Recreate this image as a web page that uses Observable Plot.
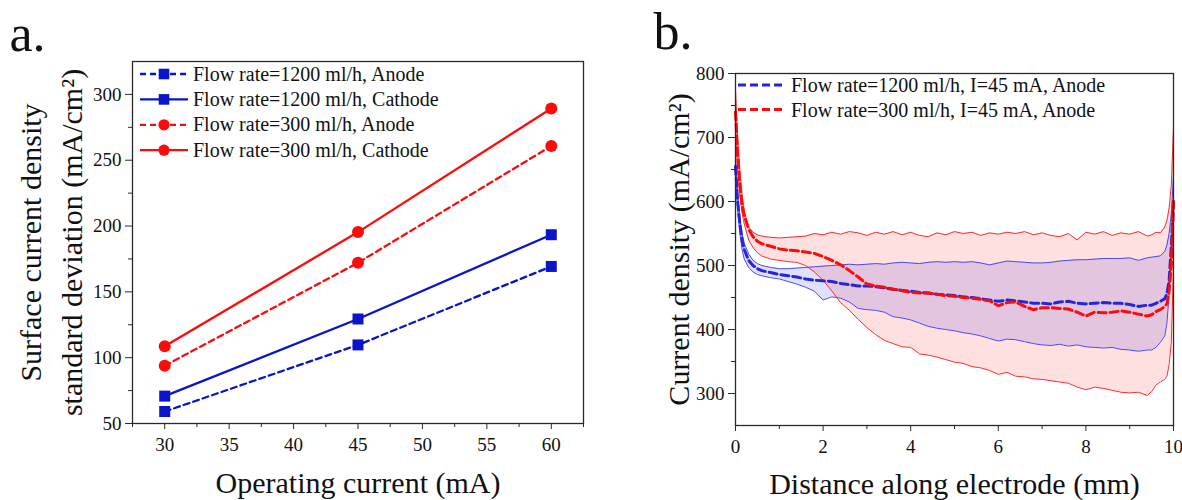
<!DOCTYPE html>
<html>
<head>
<meta charset="utf-8">
<script src="https://cdn.jsdelivr.net/npm/d3@7"></script>
<script src="https://cdn.jsdelivr.net/npm/@observablehq/plot@0.6"></script>
<style>
  html, body { margin: 0; padding: 0; background: #fff; }
  #fig { position: relative; width: 1182px; height: 500px; overflow: hidden; background: #fff; }
  #fig svg { position: absolute; top: 0; }
</style>
</head>
<body>
<div id="fig"></div>
<script>
// ---------------- Panel a data ----------------
const currents = [30, 45, 60];
const anode1200 = [59.1, 109.7, 169.3];
const cathode1200 = [70.8, 129.4, 193.4];
const anode300 = [93.9, 172.1, 260.8];
const cathode300 = [108.6, 195.4, 289.3];
const legendA = ["Flow rate=1200 ml/h, Anode", "Flow rate=1200 ml/h, Cathode", "Flow rate=300 ml/h, Anode", "Flow rate=300 ml/h, Cathode"];
const xTicksA = [30, 35, 40, 45, 50, 55, 60];
const xMinorA = [27.5, 32.5, 37.5, 42.5, 47.5, 52.5, 57.5, 62.5];
const yTicksA = [50, 100, 150, 200, 250, 300];
const yMinorA = [75, 125, 175, 225, 275];

// ---------------- Panel b data ----------------
const distance = [0, 0.05, 0.1, 0.15, 0.2, 0.3, 0.4, 0.5, 0.6, 0.8, 1.0, 1.2, 1.4, 1.6, 1.8, 2.0, 2.2, 2.4, 2.6, 2.8, 3.0, 3.2, 3.4, 3.6, 3.8, 4.0, 4.2, 4.4, 4.6, 4.8, 5.0, 5.2, 5.4, 5.6, 5.8, 6.0, 6.2, 6.4, 6.6, 6.8, 7.0, 7.2, 7.4, 7.6, 7.8, 8.0, 8.2, 8.4, 8.6, 8.8, 9.0, 9.2, 9.4, 9.5, 9.6, 9.7, 9.8, 9.85, 9.9, 9.95, 10];
const red300Upper = [775, 700, 650, 612, 585, 560, 552, 548, 546, 544, 543, 544, 545, 546, 550, 548, 552, 549, 553, 551, 547, 552, 549, 553, 548, 552, 547, 545, 551, 548, 553, 550, 552, 547, 551, 549, 552, 550, 553, 548, 551, 547, 545, 550, 540, 552, 549, 553, 547, 551, 549, 553, 546, 548, 552, 551, 560, 570, 590, 625, 715];
const red300Lower = [705, 650, 610, 582, 565, 540, 528, 520, 515, 510, 508, 506, 505, 500, 490, 477, 460, 442, 430, 416, 403, 392, 383, 378, 373, 372, 362, 360, 357, 353, 349, 347, 342, 340, 336, 330, 333, 327, 326, 323, 322, 320, 318, 316, 310, 306, 310, 308, 305, 302, 301, 302, 297, 303, 313, 318, 322, 327, 345, 380, 500];
const red300Mean = [740, 670, 625, 595, 578, 557, 545, 538, 534, 530, 526, 524, 523, 521, 519, 514, 508, 501, 492, 482, 471, 468, 466, 463, 461, 458, 457, 457, 455, 453, 452, 450, 449, 447, 445, 437, 442, 443, 436, 431, 434, 434, 433, 432, 427, 421, 427, 426, 427, 429, 427, 424, 421, 423, 428, 431, 436, 440, 460, 500, 600];
const blue1200Upper = [665, 610, 575, 550, 535, 518, 508, 503, 500, 497, 495, 495, 496, 497, 498, 499, 500, 501, 502, 501, 502, 503, 502, 504, 505, 504, 503, 505, 506, 505, 506, 505, 506, 504, 501, 504, 507, 506, 505, 504, 504, 505, 507, 508, 509, 509, 510, 511, 511, 511, 512, 508, 512, 513, 514, 515, 522, 532, 550, 580, 640];
const blue1200Lower = [640, 585, 550, 525, 510, 497, 490, 486, 484, 481, 479, 475, 471, 466, 460, 446, 451, 449, 443, 433, 431, 430, 427, 420, 418, 415, 410, 405, 402, 400, 398, 395, 393, 390, 386, 382, 385, 384, 381, 378, 376, 375, 377, 374, 376, 373, 372, 371, 372, 369, 368, 366, 368, 368, 372, 380, 390, 410, 455, 520, 600];
const blue1200Mean = [655, 600, 565, 540, 525, 508, 500, 495, 492, 489, 486, 484, 482, 479, 477, 476, 475, 472, 470, 468, 468, 467, 465, 463, 461, 460, 458, 457, 455, 454, 453, 451, 450, 448, 446, 444, 446, 445, 443, 441, 441, 440, 443, 444, 441, 440, 441, 442, 441, 441, 439, 436, 438, 438, 441, 444, 448, 456, 476, 530, 600];
const legendB = ["Flow rate=1200 ml/h, I=45 mA, Anode", "Flow rate=300 ml/h, I=45 mA, Anode"];
const xTicksB = [0, 2, 4, 6, 8, 10];
const xMinorB = [1, 3, 5, 7, 9];
const yTicksB = [300, 400, 500, 600, 700, 800];
const yMinorB = [350, 450, 550, 650, 750];

// ---------------- Styles ----------------
const FONT = "'Liberation Serif', 'Times New Roman', Times, serif";
const BLUE_A = "#0a14c8";
const RED = "#ff0a0a";
const BLUE_B = "#2626d8";
const AXIS = "#2a2a2a";
const noText = () => "";

const rowsA = (vals) => currents.map((c, i) => ({current: c, value: vals[i]}));
const seriesA = [
  {rows: rowsA(anode1200), color: BLUE_A, dash: "6,4", symbol: "square"},
  {rows: rowsA(cathode1200), color: BLUE_A, dash: null, symbol: "square"},
  {rows: rowsA(anode300), color: RED, dash: "6,4", symbol: "circle"},
  {rows: rowsA(cathode300), color: RED, dash: null, symbol: "circle"}
];

const fig = document.getElementById("fig");

// ---------------- Panel a ----------------
const plotA = Plot.plot({
  width: 620, height: 500,
  marginLeft: 132, marginRight: 37, marginTop: 61, marginBottom: 77,
  x: {domain: [27.5, 62.5], label: null},
  y: {domain: [50, 325], label: null},
  style: {fontFamily: FONT, fontSize: "19px", color: AXIS, background: "transparent", overflow: "visible"},
  marks: [
    Plot.axisX({ticks: xTicksA, tickSize: 6, tickPadding: 8, label: null, fill: "#111", fontFamily: FONT, fontSize: 19}),
    Plot.axisX({ticks: xMinorA, tickSize: 4, tickFormat: noText, label: null}),
    Plot.axisY({ticks: yTicksA, tickSize: 7, tickPadding: 4, label: null, fill: "#111", fontFamily: FONT, fontSize: 19}),
    Plot.axisY({ticks: yMinorA, tickSize: 4, tickFormat: noText, label: null}),
    ...seriesA.map(s => Plot.line(s.rows, {x: "current", y: "value", stroke: s.color, strokeWidth: 2.3, strokeDasharray: s.dash})),
    ...seriesA.map(s => Plot.dot(s.rows, {x: "current", y: "value", fill: s.color, stroke: "none", symbol: s.symbol, r: s.symbol === "square" ? 6.2 : 6})),
    Plot.frame({stroke: AXIS, strokeWidth: 1.3}),
    Plot.text(["Operating current (mA)"], {text: d => d, frameAnchor: "bottom", dy: 60, fontSize: 30, fontFamily: FONT, lineAnchor: "middle", textAnchor: "middle", fill: "#111"}),
    Plot.text(["Surface current density"], {text: d => d, frameAnchor: "left", rotate: -90, dx: -101.5, fontSize: 30, fontFamily: FONT, lineAnchor: "middle", textAnchor: "middle", fill: "#111"}),
    Plot.text(["standard deviation (mA/cm²)"], {text: d => d, frameAnchor: "left", rotate: -90, dx: -60, fontSize: 30, fontFamily: FONT, lineAnchor: "middle", textAnchor: "middle", fill: "#111"}),
    Plot.text(["a."], {text: d => d, frameAnchor: "top-left", dx: -123, dy: -27.5, textAnchor: "start", fontSize: 52, fontFamily: FONT, lineAnchor: "middle", fill: "#111"})
  ]
});
plotA.style.left = "0px";
fig.appendChild(plotA);

// legend for panel a
{
  const g = d3.select(plotA).append("g").attr("font-family", FONT).attr("font-size", 20).attr("fill", "#111").attr("text-anchor", "start");
  const rowY = [74, 99.4, 124.8, 150.2];
  seriesA.forEach((s, i) => {
    const y = rowY[i];
    g.append("line").attr("x1", 140).attr("x2", 188).attr("y1", y).attr("y2", y)
      .attr("stroke", s.color).attr("stroke-width", 2.3).attr("stroke-dasharray", s.dash || null);
    if (s.symbol === "square") {
      g.append("rect").attr("x", 164 - 5.3).attr("y", y - 5.3).attr("width", 10.6).attr("height", 10.6).attr("fill", s.color);
    } else {
      g.append("circle").attr("cx", 164).attr("cy", y).attr("r", 5.6).attr("fill", s.color);
    }
    g.append("text").attr("x", 193).attr("y", y + 6.6).text(legendA[i]);
  });
}

// ---------------- Panel b ----------------
const rowsB = distance.map((d, i) => ({
  d,
  ru: red300Upper[i], rl: red300Lower[i], rm: red300Mean[i],
  bu: blue1200Upper[i], bl: blue1200Lower[i], bm: blue1200Mean[i]
}));

const plotB = Plot.plot({
  width: 562, height: 500,
  marginLeft: 115, marginRight: 9, marginTop: 73, marginBottom: 75,
  x: {domain: [0, 10], label: null},
  y: {domain: [250, 800], label: null},
  style: {fontFamily: FONT, fontSize: "19px", color: AXIS, background: "transparent", overflow: "visible"},
  marks: [
    Plot.areaY(rowsB, {x: "d", y1: "bl", y2: "bu", fill: "#3030ff", fillOpacity: 0.15}),
    Plot.areaY(rowsB, {x: "d", y1: "rl", y2: "ru", fill: "#ff2020", fillOpacity: 0.14}),
    Plot.line(rowsB, {x: "d", y: "bu", stroke: "#4a4af0", strokeWidth: 1}),
    Plot.line(rowsB, {x: "d", y: "bl", stroke: "#4a4af0", strokeWidth: 1}),
    Plot.line(rowsB, {x: "d", y: "ru", stroke: "#ff2a2a", strokeWidth: 1}),
    Plot.line(rowsB, {x: "d", y: "rl", stroke: "#ff2a2a", strokeWidth: 1}),
    Plot.line(rowsB, {x: "d", y: "bm", stroke: BLUE_B, strokeWidth: 3, strokeDasharray: "8,4"}),
    Plot.line(rowsB, {x: "d", y: "rm", stroke: RED, strokeWidth: 3, strokeDasharray: "8,4"}),
    Plot.axisX({ticks: xTicksB, tickSize: 6, tickPadding: 8, label: null, fill: "#111", fontFamily: FONT, fontSize: 19}),
    Plot.axisX({ticks: xMinorB, tickSize: 4, tickFormat: noText, label: null}),
    Plot.axisY({ticks: yTicksB, tickSize: 7, tickPadding: 4, label: null, fill: "#111", fontFamily: FONT, fontSize: 19}),
    Plot.axisY({ticks: yMinorB, tickSize: 4, tickFormat: noText, label: null}),
    Plot.frame({stroke: AXIS, strokeWidth: 1.3}),
    Plot.text(["Distance along electrode (mm)"], {text: d => d, frameAnchor: "bottom", dy: 59, fontSize: 30, fontFamily: FONT, lineAnchor: "middle", textAnchor: "middle", fill: "#111"}),
    Plot.text(["Current density (mA/cm²)"], {text: d => d, frameAnchor: "left", rotate: -90, dx: -56.5, fontSize: 30, fontFamily: FONT, lineAnchor: "middle", textAnchor: "middle", fill: "#111"}),
    Plot.text(["b."], {text: d => d, frameAnchor: "top-left", dx: -82, dy: -41.5, textAnchor: "start", fontSize: 52, fontFamily: FONT, lineAnchor: "middle", fill: "#111"})
  ]
});
plotB.style.left = "620px";
fig.appendChild(plotB);

// legend for panel b
{
  const g = d3.select(plotB).append("g").attr("font-family", FONT).attr("font-size", 20).attr("fill", "#111").attr("text-anchor", "start");
  const rowY = [85, 109.5];
  const cols = [BLUE_B, RED];
  cols.forEach((c, i) => {
    const y = rowY[i];
    g.append("line").attr("x1", 118).attr("x2", 162).attr("y1", y).attr("y2", y)
      .attr("stroke", c).attr("stroke-width", 3).attr("stroke-dasharray", "8,4");
    g.append("text").attr("x", 171).attr("y", y + 7.3).text(legendB[i]);
  });
}
</script>
</body>
</html>
